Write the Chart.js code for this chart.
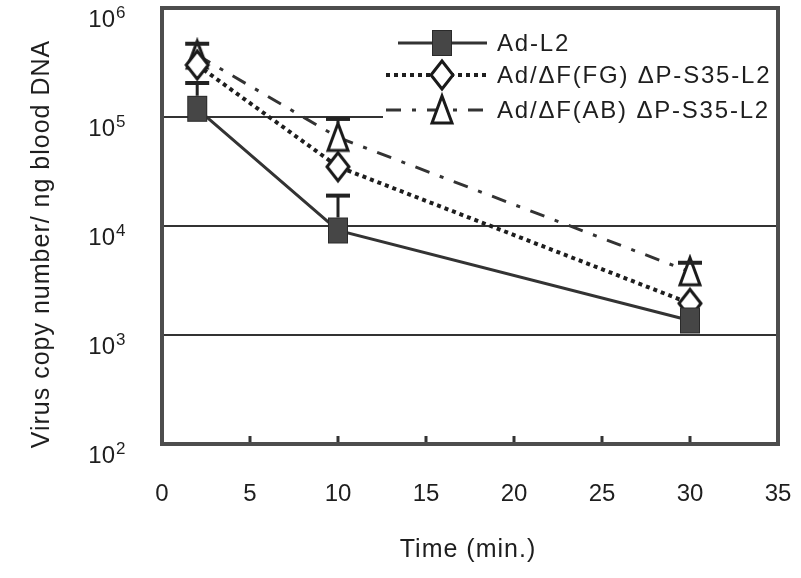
<!DOCTYPE html>
<html>
<head>
<meta charset="utf-8">
<script src="https://cdn.jsdelivr.net/npm/chart.js@4"></script>
<style>
  html, body { margin: 0; padding: 0; background: #fff; }
</style>
</head>
<body>
<canvas id="chart" width="801" height="578"></canvas>
<script>
const times = [2, 10, 30];
const seriesNames = ["Ad-L2", "Ad/\u0394F(FG) \u0394P-S35-L2", "Ad/\u0394F(AB) \u0394P-S35-L2"];
const adL2 = [119000, 9100, 1360];
const adFG = [300000, 35000, 1950];
const adAB = [370000, 65000, 3800];
// upper ends of the error bars (null = hidden behind the marker)
const adL2Err = [205000, 19000, null];
const adFGErr = [null, null, null];
const adABErr = [470000, 96000, 4600];
const xTicks = [0, 5, 10, 15, 20, 25, 30, 35];
const yTicks = [100, 1000, 10000, 100000, 1000000];
const yGrid = [1000, 10000, 100000];

const FONT = "'Liberation Sans', Arial, sans-serif";
const INK = "#1e1e1e";

function pts(vals) {
  return vals.map((v, i) => ({ x: times[i], y: v }));
}

// marker images (tall shapes like in the scanned figure)
function marker(kind) {
  const c = document.createElement("canvas");
  c.width = 36; c.height = 36;
  const g = c.getContext("2d");
  g.lineJoin = "miter";
  if (kind === "square") {
    g.fillStyle = "#464646";
    g.strokeStyle = "#2a2a2a";
    g.lineWidth = 1;
    g.fillRect(8, 5, 20, 26);
    g.strokeRect(8.5, 5.5, 19, 25);
  } else if (kind === "diamond") {
    g.fillStyle = "#fff";
    g.strokeStyle = "#1a1a1a";
    g.lineWidth = 3;
    g.beginPath();
    g.moveTo(18, 4); g.lineTo(29, 18); g.lineTo(18, 32); g.lineTo(7, 18); g.closePath();
    g.fill(); g.stroke();
  } else {
    g.fillStyle = "#fff";
    g.strokeStyle = "#1a1a1a";
    g.lineWidth = 3;
    g.beginPath();
    g.moveTo(18, 4); g.lineTo(28, 31); g.lineTo(8, 31); g.closePath();
    g.fill(); g.stroke();
  }
  return c;
}
const markers = [marker("square"), marker("diamond"), marker("triangle")];
const markerHalf = [13, 14, 14];
const errs = [adL2Err, adFGErr, adABErr];

const decorPlugin = {
  id: "decor",
  beforeDatasetsDraw(chart) {
    const { ctx, chartArea: a, scales } = chart;
    const y = scales.y, x = scales.x;
    ctx.save();
    ctx.strokeStyle = "#333";
    ctx.lineWidth = 2;
    yGrid.forEach(v => {
      const py = Math.round(y.getPixelForValue(v));
      ctx.beginPath();
      ctx.moveTo(a.left, py);
      ctx.lineTo(a.right, py);
      ctx.stroke();
    });
    // legend background covers the grid
    ctx.fillStyle = "#fff";
    ctx.fillRect(383, 16, a.right - 385, 110);
    // small inner tick marks on the time axis
    ctx.strokeStyle = "#333";
    ctx.lineWidth = 3;
    xTicks.slice(1, -1).forEach(t => {
      const px = x.getPixelForValue(t);
      ctx.beginPath();
      ctx.moveTo(px, a.bottom);
      ctx.lineTo(px, a.bottom - 8);
      ctx.stroke();
    });
    ctx.restore();
  },
  afterDatasetsDraw(chart) {
    const { ctx, scales } = chart;
    const y = scales.y, x = scales.x;
    ctx.save();
    ctx.strokeStyle = "#222";
    chart.data.datasets.forEach((ds, di) => {
      errs[di].forEach((hi, i) => {
        if (hi == null) return;
        const px = x.getPixelForValue(times[i]);
        const p0 = y.getPixelForValue(ds.data[i].y) - markerHalf[di];
        const p1 = y.getPixelForValue(hi);
        ctx.lineWidth = 3;
        if (p1 < p0) {
          ctx.beginPath();
          ctx.moveTo(px, p0);
          ctx.lineTo(px, p1);
          ctx.stroke();
        }
        ctx.lineWidth = 4;
        ctx.beginPath();
        ctx.moveTo(px - 12, p1);
        ctx.lineTo(px + 12, p1);
        ctx.stroke();
      });
    });
    ctx.restore();
  },
  afterDraw(chart) {
    const { ctx, chartArea: a, scales } = chart;
    const y = scales.y;
    ctx.save();
    // plot frame
    ctx.strokeStyle = "#4d4d4d";
    ctx.lineWidth = 4;
    ctx.strokeRect(a.left, a.top, a.right - a.left, a.bottom - a.top);
    // y tick labels as 10 with superscript exponent
    ctx.fillStyle = INK;
    ctx.textBaseline = "middle";
    yTicks.forEach(v => {
      const py = y.getPixelForValue(v);
      const exp = String(Math.round(Math.log10(v)));
      ctx.font = "24px " + FONT;
      ctx.textAlign = "right";
      ctx.fillText("10", 115, py + 12);
      ctx.font = "17px " + FONT;
      ctx.textAlign = "left";
      ctx.fillText(exp, 116, py + 5);
    });
    // axis titles
    ctx.letterSpacing = "1px";
    ctx.font = "25px " + FONT;
    ctx.textAlign = "center";
    ctx.fillText("Time (min.)", 468, 550);
    ctx.save();
    ctx.translate(42, 244);
    ctx.rotate(-Math.PI / 2);
    ctx.fillText("Virus copy number/ ng blood DNA", 0, 0);
    ctx.restore();
    // legend
    const rows = [43, 75, 110];
    chart.data.datasets.forEach((ds, i) => {
      const ry = rows[i];
      ctx.strokeStyle = ds.borderColor;
      ctx.lineWidth = ds.borderWidth;
      ctx.setLineDash(ds.borderDash || []);
      ctx.beginPath();
      ctx.moveTo(i === 0 ? 398 : 386, ry);
      ctx.lineTo(487, ry);
      ctx.stroke();
      ctx.setLineDash([]);
      const m = markers[i];
      ctx.drawImage(m, 442 - m.width / 2, ry - m.height / 2);
      ctx.fillStyle = INK;
      ctx.letterSpacing = "1.8px";
      ctx.font = "24px " + FONT;
      ctx.textAlign = "left";
      ctx.textBaseline = "middle";
      ctx.fillText(ds.label, 497, ry + 1);
    });
    ctx.restore();
  }
};

new Chart("chart", {
  type: "line",
  data: {
    datasets: [{
      label: seriesNames[0],
      data: pts(adL2),
      borderColor: "#333",
      borderWidth: 3,
      pointStyle: markers[0]
    }, {
      label: seriesNames[1],
      data: pts(adFG),
      borderColor: "#1e1e1e",
      borderWidth: 4,
      borderDash: [4, 4],
      pointStyle: markers[1]
    }, {
      label: seriesNames[2],
      data: pts(adAB),
      borderColor: "#333",
      borderWidth: 3,
      borderDash: [15, 11, 4, 11],
      pointStyle: markers[2]
    }]
  },
  options: {
    responsive: false,
    animation: false,
    layout: { padding: { left: 0, right: 23, top: 7, bottom: 0 } },
    plugins: { legend: { display: false }, tooltip: { enabled: false } },
    scales: {
      x: {
        type: "linear",
        min: 0,
        max: 35,
        afterBuildTicks: s => { s.ticks = xTicks.map(v => ({ value: v })); },
        afterFit: s => { s.height = 134; s.paddingLeft = 0; s.paddingRight = 0; },
        grid: { display: false, drawTicks: false },
        border: { display: false },
        ticks: { color: INK, font: { family: FONT, size: 24 }, padding: 36, maxRotation: 0 }
      },
      y: {
        type: "logarithmic",
        min: 100,
        max: 1000000,
        afterFit: s => { s.width = 162; s.paddingTop = 0; s.paddingBottom = 0; },
        grid: { display: false, drawTicks: false },
        border: { display: false },
        ticks: { display: false }
      }
    }
  },
  plugins: [decorPlugin]
});
</script>
</body>
</html>
